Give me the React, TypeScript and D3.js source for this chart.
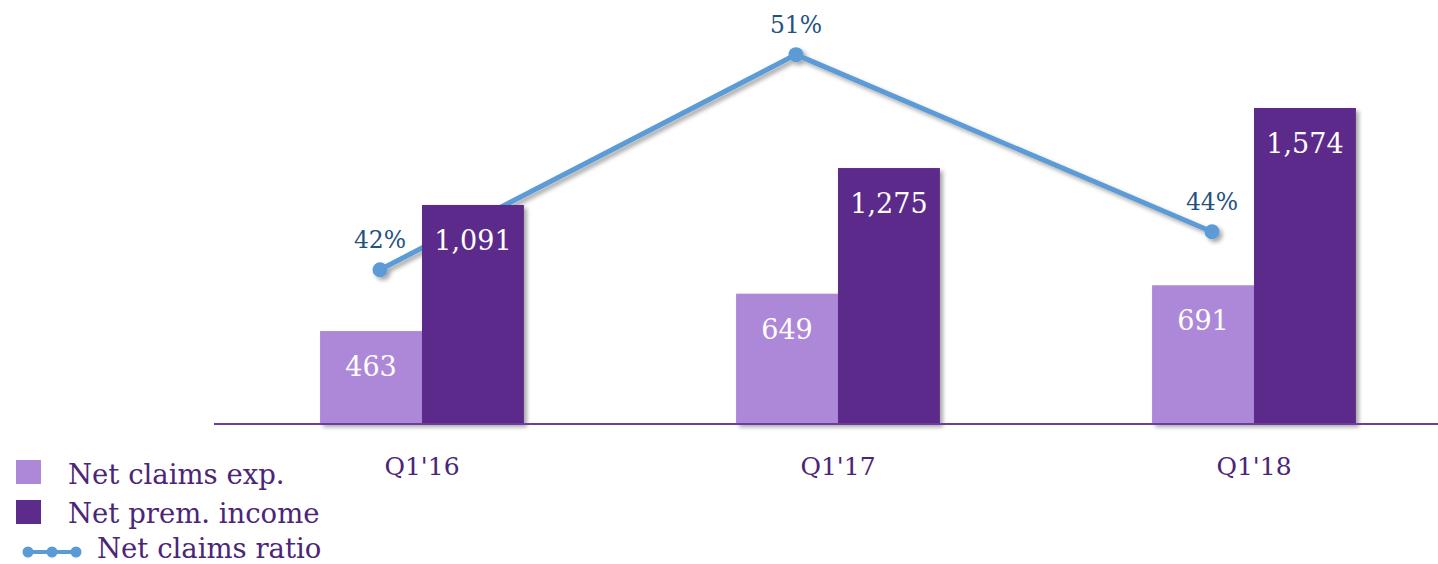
import React from "react";
import * as d3 from "d3";

const categories = ["Q1'16", "Q1'17", "Q1'18"];
const claimsExp = [463, 649, 691];
const premIncome = [1091, 1275, 1574];
const claimsRatio = [42.4, 50.9, 43.9];
const ratioLabels = ["42%", "51%", "44%"];

const W = 1438;
const H = 564;
const FONT = "'DejaVu Serif', Georgia, serif";
const LIGHT = "#ae88d8";
const DARK = "#5b2c8b";
const LINE = "#5b9bd5";

export default function App() {
  const x = d3.scaleBand<string>().domain(categories).range([214, 1462]).paddingInner(0.51).paddingOuter(0.255);
  const inner = d3.scaleBand<string>().domain(["claims", "prem"]).range([0, x.bandwidth()]);
  const y = d3.scaleLinear().domain([0, 2112]).range([424, 0]);
  const yr = d3.scaleLinear().domain([36, 53]).range([431.6, 1.5]);
  const fmt = d3.format(",");

  const px = (i: number) => (x(categories[i]) as number) + x.bandwidth() / 2 - 42;
  const line = d3
    .line<number>()
    .x((_, i) => px(i))
    .y((d) => yr(d));

  return (
    <svg width={W} height={H} style={{ position: "absolute", left: 0, top: 0 }}>
      <defs>
        <filter id="sh" x="-20%" y="-20%" width="140%" height="140%">
          <feDropShadow dx="3" dy="3" stdDeviation="2" floodColor="#000" floodOpacity="0.35" />
        </filter>
      </defs>
      <rect width={W} height={H} fill="#fff" />

      {/* ratio line, sits behind bars */}
      <g filter="url(#sh)">
        <path d={line(claimsRatio) || ""} fill="none" stroke={LINE} strokeWidth={5} />
        {claimsRatio.map((d, i) => (
          <circle key={i} cx={px(i)} cy={yr(d)} r={7.5} fill={LINE} />
        ))}
      </g>

      {categories.map((c, i) => {
        const x0 = x(c) as number;
        const bw = inner.bandwidth();
        return (
          <g key={c}>
            <rect x={x0} y={y(claimsExp[i])} width={bw} height={y(0) - y(claimsExp[i])} fill={LIGHT} filter="url(#sh)" />
            <rect
              x={x0 + (inner("prem") as number)}
              y={y(premIncome[i])}
              width={bw}
              height={y(0) - y(premIncome[i])}
              fill={DARK}
              filter="url(#sh)"
            />
            <text x={x0 + bw / 2} y={y(claimsExp[i]) + 45} textAnchor="middle" fill="#fff" fontFamily={FONT} fontSize={27}>
              {fmt(claimsExp[i])}
            </text>
            <text
              x={x0 + (inner("prem") as number) + bw / 2}
              y={y(premIncome[i]) + 45}
              textAnchor="middle"
              fill="#fff"
              fontFamily={FONT}
              fontSize={27}
            >
              {fmt(premIncome[i])}
            </text>
            <text x={x0 + x.bandwidth() / 2} y={475} textAnchor="middle" fill="#4b2577" fontFamily={FONT} fontSize={25}>
              {c}
            </text>
            <text x={px(i)} y={yr(claimsRatio[i]) - 22} textAnchor="middle" fill="#24527f" fontFamily={FONT} fontSize={23.5}>
              {ratioLabels[i]}
            </text>
          </g>
        );
      })}

      <line x1={214} x2={W} y1={y(0)} y2={y(0)} stroke="#6b3d9c" strokeWidth={2} />

      {/* legend */}
      <g fontFamily={FONT} fontSize={27.5} fill="#4b2577">
        <rect x={16} y={460} width={25} height={24} fill={LIGHT} />
        <text x={68} y={484}>Net claims exp.</text>
        <rect x={16} y={500} width={25} height={24} fill={DARK} />
        <text x={68} y={523}>Net prem. income</text>
        <line x1={28} x2={76} y1={552} y2={552} stroke={LINE} strokeWidth={4} />
        {[28, 52, 76].map((cx) => (
          <circle key={cx} cx={cx} cy={552} r={5.5} fill={LINE} />
        ))}
        <text x={97} y={558}>Net claims ratio</text>
      </g>
    </svg>
  );
}
